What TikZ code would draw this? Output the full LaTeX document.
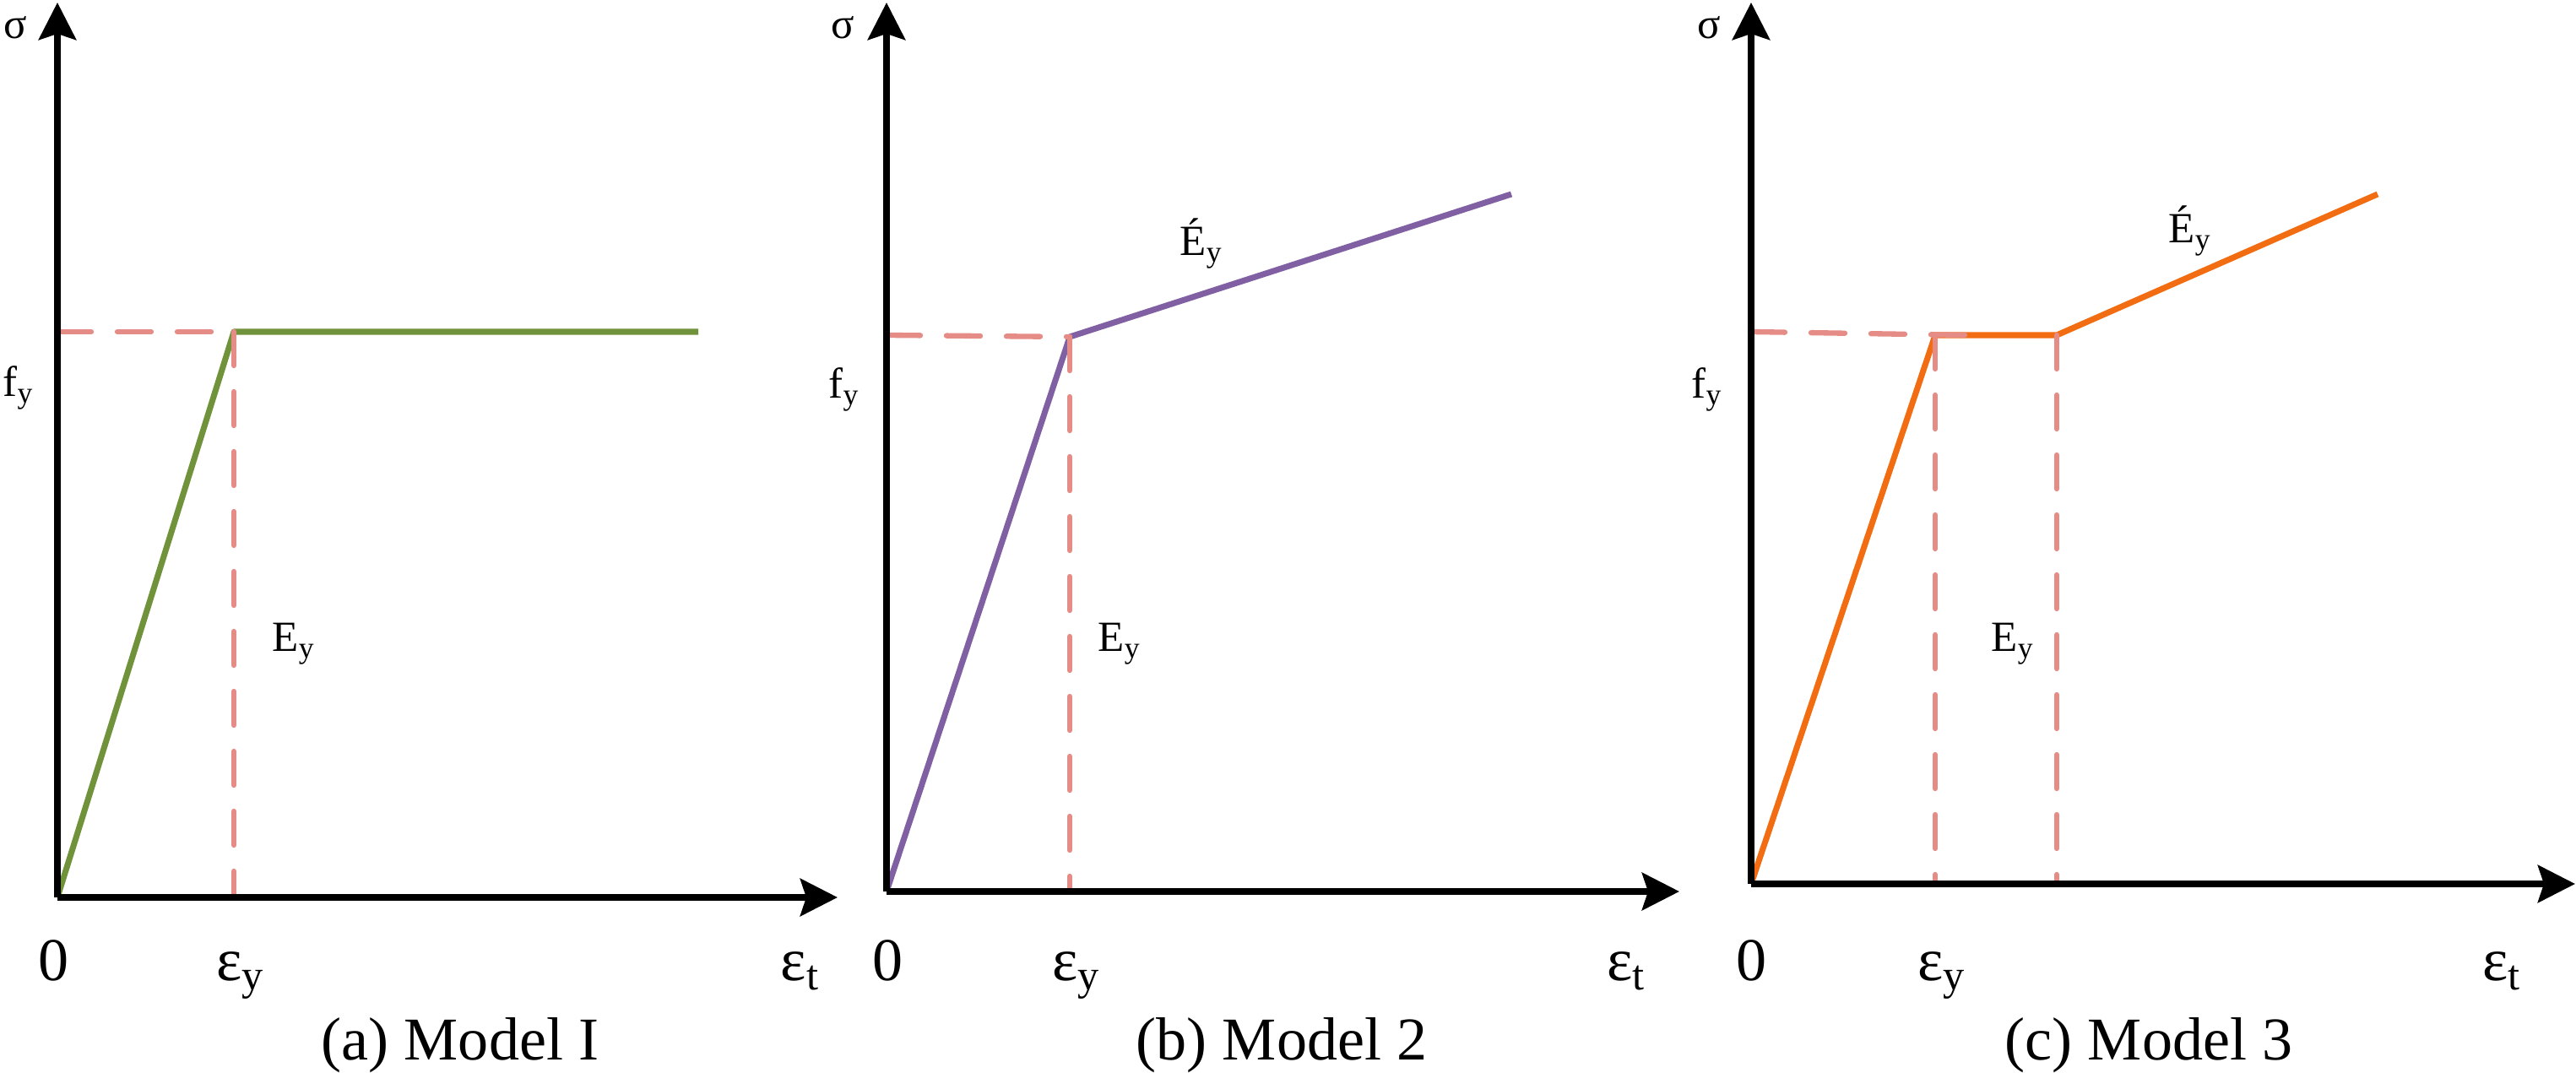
\documentclass[tikz,border=0pt]{standalone}
\usepackage{fontspec}
\setmainfont{Liberation Serif}
\usetikzlibrary{arrows.meta}
\definecolor{modelgreen}{RGB}{112,146,58}
\definecolor{modelpurple}{RGB}{128,96,162}
\definecolor{modelorange}{RGB}{242,108,18}
\definecolor{guidepink}{RGB}{230,140,134}
\tikzset{
    axis/.style={line width=2.3pt,-{Stealth[length=0.44cm,width=0.44cm,inset=0.07cm]}},
    guide/.style={guidepink,line width=1.8pt,line cap=round,dash pattern=on 0.40cm off 0.31cm},
    curve/.style={line width=2pt,line join=round},
    biglbl/.style={font=\fontsize{20.5}{24}\selectfont,inner sep=0pt,anchor=base},
    smalllbl/.style={font=\fontsize{14.5}{17}\selectfont,inner sep=0pt,anchor=base}
}
\begin{document}
\begin{tikzpicture}
    \useasboundingbox (0,0) rectangle (30.51,12.70);
    % (a) Model I
    \coordinate (oA) at (0.68,2.07);
    \coordinate (yA) at (0.68,12.67);
    \coordinate (xA) at (9.92,2.07);
    \coordinate (fA) at (0.68,8.77);
    \coordinate (pA) at (2.77,8.77);
    \coordinate (eA) at (2.77,2.07);
    \coordinate (qA) at (8.27,8.77);
    \draw[curve,modelgreen] (oA) -- (pA) -- (qA);
    \draw[guide] (fA) -- (pA);
    \draw[guide] (pA) -- (eA);
    \draw[axis] (oA) -- (yA);
    \draw[axis] (oA) -- (xA);
    \node[smalllbl] (sA) at (0.18,12.24) {σ};
    \node[smalllbl] (lfA) at (0.22,8.00) {f\textsubscript{y}};
    \node[smalllbl,anchor=base west] (lEA) at (3.22,4.98) {E\textsubscript{y}};
    \node[biglbl] (zA) at (0.64,1.08) {0};
    \node[biglbl] (leA) at (2.85,1.08) {ε\textsubscript{y}};
    \node[biglbl] (ltA) at (9.48,1.08) {ε\textsubscript{t}};
    \node[biglbl] (cA) at (5.45,0.15) {(a) Model I};
    % (b) Model 2
    \coordinate (oB) at (10.50,2.14);
    \coordinate (yB) at (10.50,12.67);
    \coordinate (xB) at (19.89,2.14);
    \coordinate (fB) at (10.50,8.73);
    \coordinate (pB) at (12.67,8.71);
    \coordinate (eB) at (12.67,2.14);
    \coordinate (qB) at (17.90,10.40);
    \draw[curve,modelpurple] (oB) -- (pB) -- (qB);
    \draw[guide] (fB) -- (pB);
    \draw[guide] (pB) -- (eB);
    \draw[axis] (oB) -- (yB);
    \draw[axis] (oB) -- (xB);
    \node[smalllbl] (sB) at (9.98,12.24) {σ};
    \node[smalllbl] (lfB) at (10.00,7.98) {f\textsubscript{y}};
    \node[smalllbl,anchor=base west] (lEB) at (13.00,4.98) {E\textsubscript{y}};
    \node[smalllbl,anchor=base west] (lGB) at (13.97,9.67) {É\textsubscript{y}};
    \node[biglbl] (zB) at (10.51,1.08) {0};
    \node[biglbl] (leB) at (12.75,1.08) {ε\textsubscript{y}};
    \node[biglbl] (ltB) at (19.26,1.08) {ε\textsubscript{t}};
    \node[biglbl] (cB) at (15.18,0.15) {(b) Model 2};
    % (c) Model 3
    \coordinate (oC) at (20.74,2.23);
    \coordinate (yC) at (20.74,12.67);
    \coordinate (xC) at (30.50,2.23);
    \coordinate (fC) at (20.74,8.77);
    \coordinate (pC) at (22.92,8.73);
    \coordinate (rC) at (24.36,8.73);
    \coordinate (eC) at (22.92,2.23);
    \coordinate (gC) at (24.36,2.23);
    \coordinate (qC) at (28.16,10.40);
    \draw[curve,modelorange] (oC) -- (pC) -- (rC) -- (qC);
    \draw[guide] (fC) -- (23.30,8.73);
    \draw[guide] (pC) -- (eC);
    \draw[guide] (rC) -- (gC);
    \draw[axis] (oC) -- (yC);
    \draw[axis] (oC) -- (xC);
    \node[smalllbl] (sC) at (20.24,12.24) {σ};
    \node[smalllbl] (lfC) at (20.22,7.98) {f\textsubscript{y}};
    \node[smalllbl,anchor=base west] (lEC) at (23.58,4.98) {E\textsubscript{y}};
    \node[smalllbl,anchor=base west] (lGC) at (25.68,9.82) {É\textsubscript{y}};
    \node[biglbl] (zC) at (20.74,1.08) {0};
    \node[biglbl] (leC) at (23.00,1.08) {ε\textsubscript{y}};
    \node[biglbl] (ltC) at (29.63,1.08) {ε\textsubscript{t}};
    \node[biglbl] (cC) at (25.45,0.15) {(c) Model 3};
\end{tikzpicture}
\end{document}
